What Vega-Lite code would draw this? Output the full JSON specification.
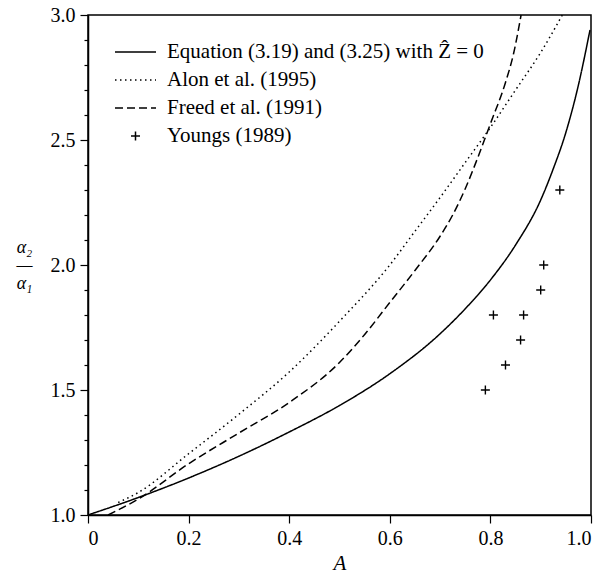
{
  "$schema": "https://vega.github.io/schema/vega-lite/v6.json",
  "width": 503,
  "height": 500,
  "autosize": {"type": "none"},
  "padding": {"left": 88, "top": 15, "right": 15, "bottom": 61},
  "background": "white",
  "config": {
    "font": "Times New Roman, Liberation Serif, serif",
    "view": {"stroke": "black", "strokeWidth": 1.5},
    "axis": {
      "grid": false,
      "domainColor": "black",
      "domainWidth": 1.5,
      "tickColor": "black",
      "tickWidth": 1.2,
      "labelColor": "black",
      "labelFont": "Times New Roman, Liberation Serif, serif",
      "labelFontSize": 20,
      "titleFont": "Times New Roman, Liberation Serif, serif",
      "titleColor": "black",
      "titleFontWeight": "normal"
    },
    "legend": {
      "orient": "none",
      "legendX": 26,
      "legendY": 26,
      "labelFont": "Times New Roman, Liberation Serif, serif",
      "labelFontSize": 21,
      "labelColor": "black",
      "labelLimit": 500,
      "symbolSize": 1681,
      "symbolStrokeColor": "black",
      "symbolStrokeWidth": 1.5,
      "symbolFillColor": "transparent",
      "symbolOpacity": 1,
      "clipHeight": 22,
      "rowPadding": 6,
      "labelOffset": 10,
      "padding": 0
    }
  },
  "data": {
    "values": [
      {"A": 0.0, "v": 1.0, "series": "Equation (3.19) and (3.25) with Ẑ = 0"},
      {"A": 0.1, "v": 1.07, "series": "Equation (3.19) and (3.25) with Ẑ = 0"},
      {"A": 0.2, "v": 1.148, "series": "Equation (3.19) and (3.25) with Ẑ = 0"},
      {"A": 0.3, "v": 1.235, "series": "Equation (3.19) and (3.25) with Ẑ = 0"},
      {"A": 0.4, "v": 1.332, "series": "Equation (3.19) and (3.25) with Ẑ = 0"},
      {"A": 0.5, "v": 1.438, "series": "Equation (3.19) and (3.25) with Ẑ = 0"},
      {"A": 0.6, "v": 1.565, "series": "Equation (3.19) and (3.25) with Ẑ = 0"},
      {"A": 0.7, "v": 1.725, "series": "Equation (3.19) and (3.25) with Ẑ = 0"},
      {"A": 0.75, "v": 1.825, "series": "Equation (3.19) and (3.25) with Ẑ = 0"},
      {"A": 0.8, "v": 1.94, "series": "Equation (3.19) and (3.25) with Ẑ = 0"},
      {"A": 0.85, "v": 2.08, "series": "Equation (3.19) and (3.25) with Ẑ = 0"},
      {"A": 0.9, "v": 2.26, "series": "Equation (3.19) and (3.25) with Ẑ = 0"},
      {"A": 0.925, "v": 2.385, "series": "Equation (3.19) and (3.25) with Ẑ = 0"},
      {"A": 0.95, "v": 2.53, "series": "Equation (3.19) and (3.25) with Ẑ = 0"},
      {"A": 0.975, "v": 2.72, "series": "Equation (3.19) and (3.25) with Ẑ = 0"},
      {"A": 0.998, "v": 2.94, "series": "Equation (3.19) and (3.25) with Ẑ = 0"},
      {"A": 0.06, "v": 1.05, "series": "Alon et al. (1995)"},
      {"A": 0.1, "v": 1.09, "series": "Alon et al. (1995)"},
      {"A": 0.2, "v": 1.245, "series": "Alon et al. (1995)"},
      {"A": 0.3, "v": 1.403, "series": "Alon et al. (1995)"},
      {"A": 0.4, "v": 1.572, "series": "Alon et al. (1995)"},
      {"A": 0.5, "v": 1.775, "series": "Alon et al. (1995)"},
      {"A": 0.6, "v": 2.0, "series": "Alon et al. (1995)"},
      {"A": 0.65, "v": 2.135, "series": "Alon et al. (1995)"},
      {"A": 0.7, "v": 2.27, "series": "Alon et al. (1995)"},
      {"A": 0.75, "v": 2.41, "series": "Alon et al. (1995)"},
      {"A": 0.8, "v": 2.55, "series": "Alon et al. (1995)"},
      {"A": 0.85, "v": 2.7, "series": "Alon et al. (1995)"},
      {"A": 0.9, "v": 2.85, "series": "Alon et al. (1995)"},
      {"A": 0.943, "v": 3.0, "series": "Alon et al. (1995)"},
      {"A": 0.04, "v": 1.0, "series": "Freed et al. (1991)"},
      {"A": 0.1, "v": 1.064, "series": "Freed et al. (1991)"},
      {"A": 0.2, "v": 1.205, "series": "Freed et al. (1991)"},
      {"A": 0.3, "v": 1.328, "series": "Freed et al. (1991)"},
      {"A": 0.4, "v": 1.45, "series": "Freed et al. (1991)"},
      {"A": 0.5, "v": 1.61, "series": "Freed et al. (1991)"},
      {"A": 0.55, "v": 1.722, "series": "Freed et al. (1991)"},
      {"A": 0.6, "v": 1.85, "series": "Freed et al. (1991)"},
      {"A": 0.65, "v": 1.978, "series": "Freed et al. (1991)"},
      {"A": 0.7, "v": 2.115, "series": "Freed et al. (1991)"},
      {"A": 0.725, "v": 2.2, "series": "Freed et al. (1991)"},
      {"A": 0.75, "v": 2.305, "series": "Freed et al. (1991)"},
      {"A": 0.775, "v": 2.43, "series": "Freed et al. (1991)"},
      {"A": 0.8, "v": 2.565, "series": "Freed et al. (1991)"},
      {"A": 0.83, "v": 2.73, "series": "Freed et al. (1991)"},
      {"A": 0.846, "v": 2.845, "series": "Freed et al. (1991)"},
      {"A": 0.861, "v": 3.0, "series": "Freed et al. (1991)"},
      {"A": 0.79, "v": 1.5, "series": "Youngs (1989)"},
      {"A": 0.83, "v": 1.6, "series": "Youngs (1989)"},
      {"A": 0.86, "v": 1.7, "series": "Youngs (1989)"},
      {"A": 0.806, "v": 1.8, "series": "Youngs (1989)"},
      {"A": 0.866, "v": 1.8, "series": "Youngs (1989)"},
      {"A": 0.9, "v": 1.9, "series": "Youngs (1989)"},
      {"A": 0.906, "v": 2.0, "series": "Youngs (1989)"},
      {"A": 0.938, "v": 2.3, "series": "Youngs (1989)"}
    ]
  },
  "encoding": {
    "x": {
      "field": "A",
      "type": "quantitative",
      "scale": {"domain": [0, 1], "nice": false, "zero": false},
      "axis": {
        "title": "A",
        "titleFontStyle": "italic",
        "titleFontSize": 21,
        "titlePadding": 4,
        "values": [0, 0.2, 0.4, 0.6, 0.8, 1.0],
        "labelExpr": "datum.value == 0 ? '0' : format(datum.value, '.1f')",
        "tickSize": 8,
        "labelPadding": 5
      }
    },
    "y": {
      "field": "v",
      "type": "quantitative",
      "scale": {"domain": [1, 3], "nice": false, "zero": false},
      "axis": {
        "title": ["α₂", "—", "α₁"],
        "titleFontStyle": "italic",
        "titleFontSize": 18,
        "titleLineHeight": 18,
        "titleAngle": 0,
        "titleAlign": "center",
        "titleBaseline": "middle",
        "titleX": -64,
        "titleY": 232,
        "values": [1.0, 1.1, 1.2, 1.3, 1.4, 1.5, 1.6, 1.7, 1.8, 1.9, 2.0, 2.1, 2.2, 2.3, 2.4, 2.5, 2.6, 2.7, 2.8, 2.9, 3.0],
        "labelExpr": "abs(datum.value * 2 - round(datum.value * 2)) < 0.001 ? format(datum.value, '.1f') : ''",
        "labelOverlap": false,
        "tickSize": {"condition": {"test": "abs(datum.value * 2 - round(datum.value * 2)) < 0.001", "value": 8}, "value": 4},
        "labelPadding": 5
      }
    }
  },
  "layer": [
    {
      "transform": [{"filter": "datum.series != 'Youngs (1989)'"}],
      "mark": {"type": "line", "color": "black", "strokeWidth": 1.5, "interpolate": "monotone"},
      "encoding": {
        "strokeDash": {
          "field": "series",
          "type": "nominal",
          "scale": {
            "domain": ["Equation (3.19) and (3.25) with Ẑ = 0", "Alon et al. (1995)", "Freed et al. (1991)", "Youngs (1989)"],
            "range": [[1, 0], [1.5, 3.5], [8, 4], [1, 0]]
          },
          "legend": {"title": null}
        }
      }
    },
    {
      "transform": [{"filter": "datum.series == 'Youngs (1989)'"}],
      "mark": {"type": "point", "color": "black", "size": 1681, "strokeWidth": 1.4, "opacity": 1, "filled": false},
      "encoding": {
        "shape": {
          "field": "series",
          "type": "nominal",
          "scale": {
            "domain": ["Equation (3.19) and (3.25) with Ẑ = 0", "Alon et al. (1995)", "Freed et al. (1991)", "Youngs (1989)"],
            "range": ["M-1,0H1", "M-1,0H1", "M-1,0H1", "M-0.22,0H0.22M0,-0.22V0.22"]
          },
          "legend": {"title": null}
        }
      }
    }
  ]
}
